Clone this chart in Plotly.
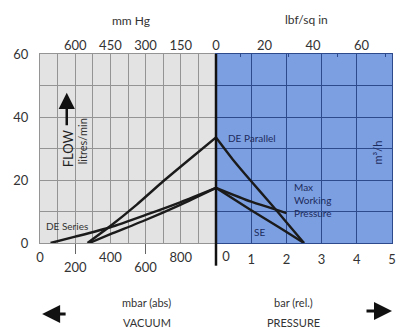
import plotly.graph_objects as go

# ---- data ----
vac_mbar_de_parallel = [270, 400, 550, 700, 850, 1000]
vac_flow_de_parallel = [0, 5.4, 12.2, 19.6, 26.6, 33.5]
vac_mbar_se = [280, 400, 600, 800, 1000]
vac_flow_se = [0, 2.8, 7.3, 12.2, 17.5]
vac_mbar_de_series = [60, 200, 400, 600, 800, 1000]
vac_flow_de_series = [0, 2.0, 5.0, 8.9, 13.0, 17.5]

pr_bar_de_parallel = [0, 0.5, 1.0, 1.5, 2.0, 2.5]
pr_flow_de_parallel = [33.5, 26.2, 19.6, 13.2, 6.6, 0]
pr_bar_se = [0, 1.0, 1.8, 2.5]
pr_flow_se = [17.5, 10.4, 4.9, 0]
pr_bar_mwp = [0, 1.0, 2.0]
pr_flow_mwp = [17.5, 13.1, 9.5]

mbar_ticks_upper = [0, 400, 800]
mbar_ticks_lower = [200, 600]
bar_ticks = [1, 2, 3, 4, 5]
bar_zero = [0]
mmhg_ticks = [600, 450, 300, 150, 0]
psi_ticks = [20, 40, 60]
psi_minor = [10, 30, 50, 70]
flow_ticks = [0, 20, 40, 60]

FONT = "Lato"
LINE = "#1b1b1b"
LEFT_BG = "#e3e3e3"
LEFT_GRID = "#949494"
RIGHT_BG = "#7c9fe2"
RIGHT_GRID = "#2d4b8c"
TXT = "#333333"
NAVY = "#1d2b5c"

fig = go.Figure()

def add(x, y, xa, ya):
    fig.add_trace(go.Scatter(x=x, y=y, xaxis=xa, yaxis=ya, mode="lines",
                             line=dict(color=LINE, width=2.4, shape="spline", smoothing=0.6),
                             hoverinfo="skip", showlegend=False))

add(vac_mbar_de_parallel, vac_flow_de_parallel, "x", "y")
add(vac_mbar_se, vac_flow_se, "x", "y")
add(vac_mbar_de_series, vac_flow_de_series, "x", "y")
add(pr_bar_de_parallel, pr_flow_de_parallel, "x2", "y2")
add(pr_bar_se, pr_flow_se, "x2", "y2")
add(pr_bar_mwp, pr_flow_mwp, "x2", "y2")

# empty carriers so the secondary-unit axes are drawn
for xs, xa, ya in [(mmhg_ticks, "x3", "y"), (psi_ticks, "x4", "y2"),
                   (mbar_ticks_lower, "x5", "y"), (bar_zero, "x6", "y2")]:
    fig.add_trace(go.Scatter(x=xs, y=[None] * len(xs), xaxis=xa, yaxis=ya, mode="lines",
                             hoverinfo="skip", showlegend=False))

# backgrounds
fig.add_shape(type="rect", xref="x domain", yref="y domain", x0=0, x1=1, y0=0, y1=1,
              fillcolor=LEFT_BG, line_width=0, layer="below")
fig.add_shape(type="rect", xref="x2 domain", yref="y2 domain", x0=0, x1=1, y0=0, y1=1,
              fillcolor=RIGHT_BG, line_width=0, layer="below")
# divider
fig.add_shape(type="line", xref="x2 domain", yref="paper", x0=0, x1=0, y0=-0.12, y1=1,
              line=dict(color="#111111", width=2.5))

tickfont = dict(family=FONT, size=13, color=TXT)

fig.update_layout(
    width=401, height=329,
    margin=dict(l=40, r=5, t=54, b=86),
    paper_bgcolor="white", plot_bgcolor="rgba(0,0,0,0)",
    font=dict(family=FONT, color=TXT),
    xaxis=dict(domain=[0, 0.5], range=[0, 1000], anchor="y",
               tickmode="array", tickvals=mbar_ticks_upper, tickfont=tickfont,
               showgrid=False, zeroline=False, showline=True, linecolor=LEFT_GRID, mirror=True,
               ticks="", ticklabelstandoff=2,
               minor=dict(tickmode="linear", tick0=0, dtick=100, showgrid=True,
                          gridcolor=LEFT_GRID, gridwidth=1)),
    xaxis5=dict(domain=[0, 0.5], range=[0, 1000], anchor="y", overlaying="x",
                tickvals=mbar_ticks_lower, tickfont=tickfont, ticks="outside",
                ticklen=10, tickcolor="#666666", showgrid=False, zeroline=False,
                ticklabelstandoff=2),
    yaxis=dict(domain=[0, 1], range=[0, 60], anchor="x", tickvals=flow_ticks,
               tickfont=tickfont, showgrid=True, gridcolor=LEFT_GRID, zeroline=False,
               showline=True, linecolor=LEFT_GRID, ticks="", ticklabelstandoff=8,
               minor=dict(tickmode="linear", tick0=0, dtick=10, showgrid=True,
                          gridcolor=LEFT_GRID)),
    xaxis2=dict(domain=[0.5, 1], range=[0, 5], anchor="y2",
                tickvals=bar_ticks, tickfont=tickfont,
                showgrid=True, gridcolor=RIGHT_GRID, zeroline=False,
                showline=True, linecolor=RIGHT_GRID, mirror=True, ticks="",
                ticklabelstandoff=4),
    xaxis6=dict(domain=[0.5, 1], range=[0, 5], anchor="y2", overlaying="x2",
                tickvals=bar_zero, tickfont=tickfont, showgrid=False, zeroline=False,
                ticks="", ticklabelstandoff=4, ticklabelshift=10),
    yaxis2=dict(domain=[0, 1], range=[0, 60], anchor="x2", matches="y",
                showticklabels=False, showgrid=True, gridcolor=RIGHT_GRID, dtick=10,
                zeroline=False, showline=True, linecolor=RIGHT_GRID, mirror=True, ticks=""),
    xaxis3=dict(domain=[0, 0.5], range=[750, 0], anchor="y", overlaying="x", side="top",
                tickvals=mmhg_ticks, tickfont=tickfont, showgrid=False, zeroline=False,
                ticks="", ticklabelstandoff=0),
    xaxis4=dict(domain=[0.5, 1], range=[0, 72.52], anchor="y2", overlaying="x2", side="top",
                tickvals=psi_ticks, tickfont=tickfont, showgrid=False, zeroline=False,
                ticks="", ticklabelstandoff=0,
                minor=dict(tickvals=psi_minor, ticks="inside", ticklen=3,
                           tickcolor=RIGHT_GRID)),
)

def note(x, y, text, size, color, ref=("paper", "paper"), **kw):
    args = dict(x=x, y=y, xref=ref[0], yref=ref[1], text=text, showarrow=False,
                xanchor="center", yanchor="middle",
                font=dict(family=FONT, size=size, color=color))
    args.update(kw)
    fig.add_annotation(**args)

note(0.27, 33.4, "DE Parallel", 10, NAVY, ref=("x2", "y2"), xanchor="left")
note(2.15, 13.8, "Max<br>Working<br>Pressure", 10, NAVY, ref=("x2", "y2"),
     xanchor="left", align="left")
note(1.24, 3.5, "SE", 10, NAVY, ref=("x2", "y2"))
note(25, 5.4, "DE Series", 10, TXT, ref=("x", "y"), xanchor="left")

note(0.958, 0.48, "m\u00b3/h", 11, NAVY, textangle=-90)
note(0.079, 0.50, "FLOW", 13, "#222", textangle=-90)
note(0.123, 0.54, "litres/min", 11, TXT, textangle=-90)
fig.add_annotation(x=0.076, y=0.795, xref="paper", yref="paper", ax=0, ay=34,
                   axref="pixel", ayref="pixel", text="", showarrow=True,
                   arrowhead=2, arrowsize=1.3, arrowwidth=2.5, arrowcolor="#111")

note(0.258, 1.175, "mm Hg", 12, TXT)
note(0.758, 1.18, "lbf/sq in", 12, TXT)

note(0.303, -0.317, "mbar (abs)", 11, TXT)
note(0.303, -0.418, "VACUUM", 11, TXT)
note(0.719, -0.317, "bar (rel.)", 11, TXT)
note(0.719, -0.418, "PRESSURE", 11, TXT)

fig.add_annotation(x=0.006, y=-0.376, xref="paper", yref="paper", ax=25, ay=0,
                   axref="pixel", ayref="pixel", text="", showarrow=True,
                   arrowhead=2, arrowsize=1.2, arrowwidth=3, arrowcolor="#111")
fig.add_annotation(x=1.0, y=-0.36, xref="paper", yref="paper", ax=-27, ay=0,
                   axref="pixel", ayref="pixel", text="", showarrow=True,
                   arrowhead=2, arrowsize=1.2, arrowwidth=3, arrowcolor="#111")

fig.write_html("out.html", config={"displayModeBar": False},
               post_script="document.body.style.margin='0';document.body.style.padding='0';")
